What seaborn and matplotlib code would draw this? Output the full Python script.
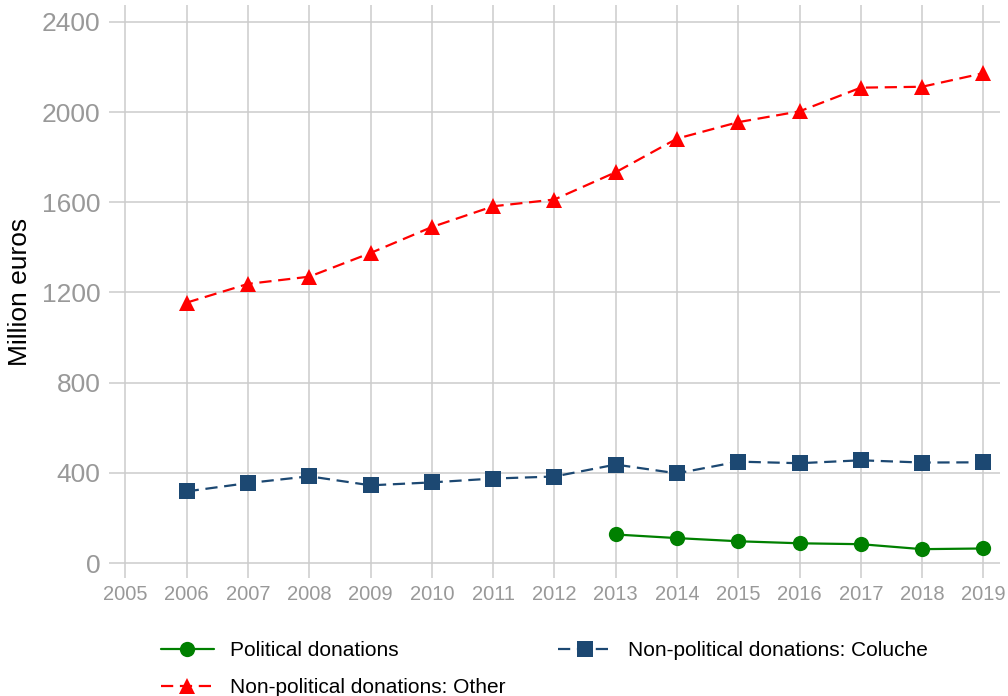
import pandas as pd
import numpy as np
import matplotlib
matplotlib.use('Agg')
import matplotlib.pyplot as plt
import seaborn as sns

# data (million euros)
years = list(range(2006, 2020))
other = [1155, 1238, 1270, 1375, 1490, 1582, 1612, 1733, 1882, 1955, 2003, 2108, 2112, 2172]
coluche = [318, 355, 385, 345, 358, 375, 384, 437, 398, 450, 443, 456, 446, 447]
political_years = list(range(2013, 2020))
political = [127, 111, 97, 88, 84, 62, 65]

lab_pol = 'Political donations'
lab_col = 'Non-political donations: Coluche'
lab_oth = 'Non-political donations: Other'

df = pd.concat([
    pd.DataFrame({'year': political_years, 'value': political, 'series': lab_pol}),
    pd.DataFrame({'year': years, 'value': coluche, 'series': lab_col}),
    pd.DataFrame({'year': years, 'value': other, 'series': lab_oth}),
])

sns.set_theme(style='whitegrid')
plt.rcParams['font.family'] = ['Liberation Sans', 'DejaVu Sans']

colors = {lab_pol: '#008000', lab_col: '#1c4872', lab_oth: '#ff0000'}
markers = {lab_pol: 'o', lab_col: 's', lab_oth: '^'}
dashes = {lab_pol: '', lab_col: (5.5, 3), lab_oth: (5.5, 3)}

fig = plt.figure(figsize=(10.08, 6.96), dpi=100)
ax = fig.add_axes([0.108, 0.1695, 0.884, 0.8235])

sns.lineplot(data=df, x='year', y='value', hue='series', style='series',
             palette=colors, markers=markers, dashes=dashes,
             linewidth=1.6, markersize=11, markeredgewidth=0, ax=ax)

ax.set_xlim(2004.73, 2019.27)
ax.set_ylim(-66, 2475)
ax.set_xticks(range(2005, 2020))
ax.set_yticks(range(0, 2401, 400))
ax.tick_params(axis='x', labelsize=14.5, colors='#999999', length=0, pad=5)
ax.tick_params(axis='y', labelsize=19, colors='#999999', length=0, pad=6)
ax.set_xlabel('')
ax.set_ylabel('Million euros', fontsize=19, color='black', labelpad=7)
ax.grid(True, color='#cccccc', linewidth=1.1)
for s in ax.spines.values():
    s.set_visible(False)

h, l = ax.get_legend_handles_labels()
order = [l.index(lab_pol), l.index(lab_oth), l.index(lab_col)]
leg = ax.legend([h[i] for i in order], [l[i] for i in order], ncol=2, frameon=False,
                loc='upper left', bbox_to_anchor=(0.037, -0.078), fontsize=15,
                handlelength=2.55, handletextpad=0.8, columnspacing=2.5, labelspacing=0.84)
for t in leg.get_texts():
    t.set_color('black')

plt.savefig('out.png', dpi=100, facecolor='white')
